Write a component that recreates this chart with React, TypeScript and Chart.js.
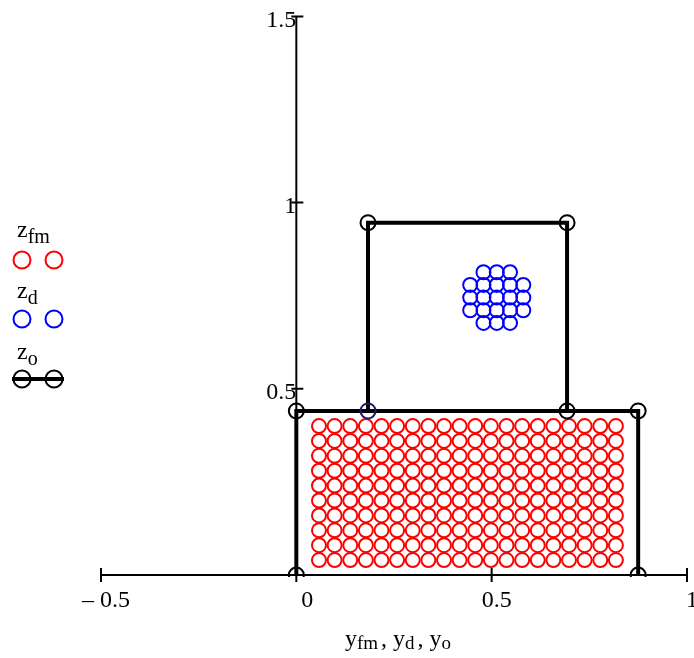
import React, { useEffect, useRef } from "react";
import { Chart, registerables } from "chart.js";

Chart.register(...registerables);

const FONT = "'Liberation Serif', 'Times New Roman', Times, serif";

// horizontal axis ticks (y_fm, y_d, y_o) and vertical axis ticks (z)
const yAxisMin = -0.5;
const yAxisMax = 1;
const zAxisMin = 0;
const zAxisMax = 1.5;
const tickStep = 0.5;

// z_fm vs y_fm : grid of red circles (column positions × row positions)
const fmColumnsY = [
  0.058, 0.098, 0.138, 0.178, 0.218, 0.258, 0.298, 0.338, 0.378, 0.418,
  0.458, 0.498, 0.538, 0.578, 0.618, 0.658, 0.698, 0.738, 0.778, 0.818,
];
const fmRowsZ = [0.04, 0.08, 0.12, 0.16, 0.2, 0.24, 0.28, 0.32, 0.36, 0.4];

// z_d vs y_d : blue bundle
const dY = [
  0.479, 0.513, 0.547,
  0.445, 0.479, 0.513, 0.547, 0.581,
  0.445, 0.479, 0.513, 0.547, 0.581,
  0.445, 0.479, 0.513, 0.547, 0.581,
  0.479, 0.513, 0.547,
];
const dZ = [
  0.813, 0.813, 0.813,
  0.779, 0.779, 0.779, 0.779, 0.779,
  0.745, 0.745, 0.745, 0.745, 0.745,
  0.711, 0.711, 0.711, 0.711, 0.711,
  0.677, 0.677, 0.677,
];

// z_o vs y_o : outline (null = break in the trace)
const oY: (number | null)[] = [0, 0, 0.875, 0.875, null, 0.1835, 0.1835, 0.693, 0.693];
const oZ: (number | null)[] = [0, 0.4405, 0.4405, 0, null, 0.4405, 0.946, 0.946, 0.4405];
const oMarkerColors = ["#000", "#000", "#000", "#000", "#000", "#1c1c6b", "#000", "#000", "#000"];

const fmData = fmRowsZ.flatMap((z) => fmColumnsY.map((y) => ({ x: y, y: z })));
const dData = dY.map((y, i) => ({ x: y, y: dZ[i] }));
const oData = oY.map((y, i) => ({ x: y, y: oZ[i] }));

const axesPlugin = {
  id: "mathcadAxes",
  beforeDatasetsDraw(chart: any) {
    const { ctx, chartArea } = chart;
    const xs = chart.scales.x;
    const ys = chart.scales.y;
    const y0 = ys.getPixelForValue(0);
    const x0 = xs.getPixelForValue(0);
    ctx.save();
    ctx.strokeStyle = "#000";
    ctx.lineWidth = 2;
    ctx.beginPath();
    ctx.moveTo(chartArea.left, y0);
    ctx.lineTo(chartArea.right, y0);
    ctx.moveTo(x0, y0);
    ctx.lineTo(x0, chartArea.top);
    for (const t of xs.ticks) {
      const px = xs.getPixelForValue(t.value);
      ctx.moveTo(px, y0 - 7);
      ctx.lineTo(px, y0 + 7);
    }
    for (const t of ys.ticks) {
      if (t.value === 0) continue;
      const py = ys.getPixelForValue(t.value);
      ctx.moveTo(x0 - 5, py);
      ctx.lineTo(x0 + 7, py);
    }
    ctx.stroke();
    ctx.restore();
  },
};

export default function App() {
  const ref = useRef<HTMLCanvasElement>(null);

  useEffect(() => {
    const chart = new Chart(ref.current as HTMLCanvasElement, {
      type: "scatter",
      data: {
        datasets: [
          {
            label: "z_o",
            data: oData as any,
            showLine: true,
            spanGaps: false,
            borderColor: "#000",
            borderWidth: 4,
            tension: 0,
            pointRadius: 7.5,
            pointBorderWidth: 2,
            pointBorderColor: oMarkerColors,
            pointBackgroundColor: "rgba(0,0,0,0)",
            clip: { left: 20, right: 20, top: 20, bottom: 2 } as any,
          },
          {
            label: "z_d",
            data: dData,
            showLine: false,
            pointRadius: 7,
            pointBorderWidth: 2,
            pointBorderColor: "#0000ff",
            pointBackgroundColor: "rgba(0,0,0,0)",
          },
          {
            label: "z_fm",
            data: fmData,
            showLine: false,
            pointRadius: 7,
            pointBorderWidth: 2,
            pointBorderColor: "#ff0000",
            pointBackgroundColor: "rgba(0,0,0,0)",
          },
        ],
      },
      options: {
        responsive: false,
        animation: false,
        devicePixelRatio: 1,
        events: [],
        layout: {
          autoPadding: false,
          padding: { left: 101, right: 15, top: 15, bottom: 83 },
        },
        plugins: {
          legend: { display: false },
          tooltip: { enabled: false },
        },
        scales: {
          x: {
            type: "linear",
            min: yAxisMin,
            max: yAxisMax,
            position: { y: 0 } as any,
            grid: { display: false },
            border: { display: false },
            ticks: {
              stepSize: tickStep,
              autoSkip: false,
              maxRotation: 0,
              color: "#000",
              padding: 3,
              labelOffset: 5,
              font: { family: FONT, size: 24 },
              callback: (v: any) => {
                const n = Number(v);
                if (n < 0) return "\u2013 " + String(Math.abs(n));
                if (n === 0) return "\u20020";
                return String(n);
              },
            },
          },
          y: {
            type: "linear",
            min: zAxisMin,
            max: zAxisMax,
            position: { x: 0 } as any,
            grid: { display: false },
            border: { display: false },
            ticks: {
              stepSize: tickStep,
              autoSkip: false,
              color: "#000",
              padding: 4,
              labelOffset: 4,
              font: { family: FONT, size: 24 },
              callback: (v: any) => (Number(v) === 0 ? "" : String(Number(v))),
            },
          },
        },
      },
      plugins: [axesPlugin],
    });
    return () => chart.destroy();
  }, []);

  return (
    <div style={{ position: "fixed", left: 0, top: 0, width: 694, height: 658, background: "#fff", overflow: "hidden" }}>
      <canvas
        ref={ref}
        width={702}
        height={660}
        style={{ position: "absolute", left: 0, top: -2, width: 702, height: 660 }}
      />
      <svg
        width={694}
        height={658}
        style={{ position: "absolute", left: 0, top: 0, pointerEvents: "none" }}
        fontFamily={FONT}
        fill="#000"
      >
        {/* legend */}
        <text x={17} y={237} fontSize={24}>
          z<tspan fontSize={20} dy={6}>fm</tspan>
        </text>
        <circle cx={22} cy={260} r={8.5} fill="none" stroke="#ff0000" strokeWidth={2} />
        <circle cx={54} cy={260} r={8.5} fill="none" stroke="#ff0000" strokeWidth={2} />

        <text x={17} y={298} fontSize={24}>
          z<tspan fontSize={20} dy={6}>d</tspan>
        </text>
        <circle cx={22} cy={319} r={8.5} fill="none" stroke="#0000ff" strokeWidth={2} />
        <circle cx={54} cy={319} r={8.5} fill="none" stroke="#0000ff" strokeWidth={2} />

        <text x={17} y={359} fontSize={24}>
          z<tspan fontSize={20} dy={6}>o</tspan>
        </text>
        <line x1={12} y1={379} x2={64} y2={379} stroke="#000" strokeWidth={4} />
        <circle cx={22} cy={379} r={8.5} fill="none" stroke="#000" strokeWidth={2} />
        <circle cx={54} cy={379} r={8.5} fill="none" stroke="#000" strokeWidth={2} />

        {/* axis title */}
        <text x={345} y={646} fontSize={24}>
          y<tspan fontSize={19} dy={3}>fm</tspan>
          <tspan dy={-3} dx={3}>,</tspan>
          <tspan dx={6}>y</tspan>
          <tspan fontSize={19} dy={3}>d</tspan>
          <tspan dy={-3} dx={3}>,</tspan>
          <tspan dx={6}>y</tspan>
          <tspan fontSize={19} dy={3}>o</tspan>
        </text>
      </svg>
    </div>
  );
}
